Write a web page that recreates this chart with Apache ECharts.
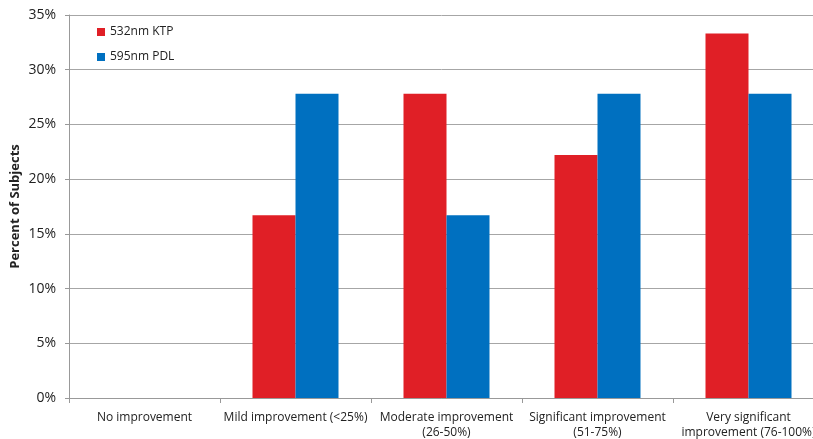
<!DOCTYPE html>
<html><head><meta charset="utf-8">
<script src="https://cdn.jsdelivr.net/npm/echarts@6/dist/echarts.min.js"></script>
<style>html,body{margin:0;padding:0;background:#fff}#c{width:813px;height:439px}</style>
</head><body><div id="c"></div>
<script>
const categories = ['No improvement', 'Mild improvement (<25%)', 'Moderate improvement\n(26-50%)', 'Significant improvement\n(51-75%)', 'Very significant\nimprovement (76-100%)'];
const ktp = [0, 16.7, 27.8, 22.2, 33.3];
const pdl = [0, 27.8, 16.7, 27.8, 27.8];
const seriesNames = ['532nm KTP', '595nm PDL'];
const font = 'Open Sans';
const chart = echarts.init(document.getElementById('c'));
chart.setOption({
  animation: false,
  textStyle: {fontFamily: font},
  grid: {left: 69, top: 15, width: 755, height: 383, containLabel: false, outerBoundsMode: 'none'},
  legend: {
    orient: 'vertical', left: 92, top: 21, itemWidth: 8, itemHeight: 8, itemGap: 13,
    textStyle: {fontFamily: font, fontSize: 12, color: '#222'},
    data: seriesNames.map(n => ({name: n, icon: 'rect'}))
  },
  xAxis: {
    type: 'category', data: categories,
    axisLine: {lineStyle: {color: '#999'}},
    axisTick: {show: true, length: 5, lineStyle: {color: '#999'}},
    axisLabel: {interval: 0, fontSize: 12, color: '#222', margin: 12, lineHeight: 15, fontFamily: font}
  },
  yAxis: {
    type: 'value', min: 0, max: 35, interval: 5,
    name: 'Percent of Subjects', nameLocation: 'middle', nameGap: 47, nameMoveOverlap: false,
    nameTextStyle: {fontWeight: 'bold', fontSize: 13, color: '#222', fontFamily: font},
    axisLine: {show: true, lineStyle: {color: '#999'}},
    axisTick: {show: true, length: 4, lineStyle: {color: '#999'}},
    splitLine: {lineStyle: {color: '#a6a6a6'}},
    axisLabel: {formatter: '{value}%', fontSize: 14, color: '#222', margin: 13, fontFamily: font}
  },
  series: [
    {name: seriesNames[0], type: 'bar', data: ktp, barWidth: 43, barGap: '0%', itemStyle: {color: '#E01F26'}},
    {name: seriesNames[1], type: 'bar', data: pdl, barWidth: 43, barGap: '0%', itemStyle: {color: '#0070C0'}}
  ]
});
</script></body></html>
